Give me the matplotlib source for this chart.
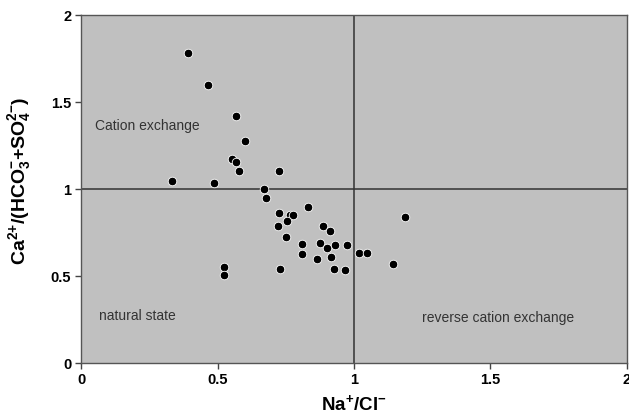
import matplotlib
matplotlib.use("Agg")
import matplotlib.pyplot as plt
from matplotlib.ticker import FormatStrFormatter, FixedLocator

plt.rcParams['font.family'] = ['Liberation Sans', 'DejaVu Sans']
plt.rcParams['mathtext.default'] = 'regular'
plt.rcParams['axes.unicode_minus'] = False

# Ion ratios per sample
na_cl = [0.391, 0.464, 0.568, 0.600, 0.552, 0.568, 0.580, 0.726, 0.334, 0.486,
         0.672, 0.676, 0.833, 0.726, 0.766, 0.775, 0.755, 0.723, 0.888, 0.912,
         0.751, 0.808, 0.875, 0.930, 0.973, 0.902, 0.811, 0.916, 0.866, 1.019,
         1.049, 1.142, 1.188, 0.729, 0.928, 0.967, 0.524, 0.524]
ca_ratio = [1.780, 1.596, 1.421, 1.276, 1.174, 1.157, 1.105, 1.101, 1.046, 1.036,
            1.002, 0.951, 0.898, 0.860, 0.851, 0.851, 0.818, 0.786, 0.787, 0.759,
            0.724, 0.686, 0.688, 0.680, 0.680, 0.663, 0.628, 0.611, 0.596, 0.634,
            0.634, 0.567, 0.837, 0.540, 0.538, 0.534, 0.552, 0.506]

ticks = [0, 0.5, 1, 1.5, 2]
zones = ["Cation exchange", "natural state", "reverse cation exchange"]
zone_x = [0.05, 0.065, 1.25]
zone_y = [1.36, 0.27, 0.26]

fig = plt.figure(figsize=(6.29, 4.2), dpi=100)
ax = fig.add_axes([0.1288, 0.1357, 0.868, 0.8283])
ax.set_facecolor('#c0c0c0')

ax.axvline(1, color='#333333', lw=1.1, zorder=1)
ax.axhline(1, color='#333333', lw=1.1, zorder=1)

ax.scatter(na_cl, ca_ratio, s=38, c='black', edgecolors='white',
           linewidths=0.6, zorder=3)

for label, x, y in zip(zones, zone_x, zone_y):
    ax.text(x, y, label, fontsize=10, color='#333333', va='center', ha='left')

ax.set_xlim(0, 2)
ax.set_ylim(0, 2)
ax.xaxis.set_major_locator(FixedLocator(ticks))
ax.yaxis.set_major_locator(FixedLocator(ticks))
ax.xaxis.set_major_formatter(FormatStrFormatter('%g'))
ax.yaxis.set_major_formatter(FormatStrFormatter('%g'))
ax.tick_params(direction='out', length=4, width=1, color='#444444',
               labelsize=10.5, pad=3)
for lbl in ax.get_xticklabels() + ax.get_yticklabels():
    lbl.set_fontweight('bold')
for sp in ax.spines.values():
    sp.set_color('#555555')
    sp.set_linewidth(1.0)

ax.set_xlabel('Na$^{{+}}$/Cl$^{{-}}$', fontsize=13.5, fontweight='bold',
              labelpad=5)
ax.set_ylabel('Ca$^{2{+}}$/(HCO$_3^{{-}}$+SO$_4^{2{-}}$)', fontsize=14,
              fontweight='bold')
ax.yaxis.set_label_coords(-0.088, 0.525)

fig.savefig('out.png', dpi=100)
